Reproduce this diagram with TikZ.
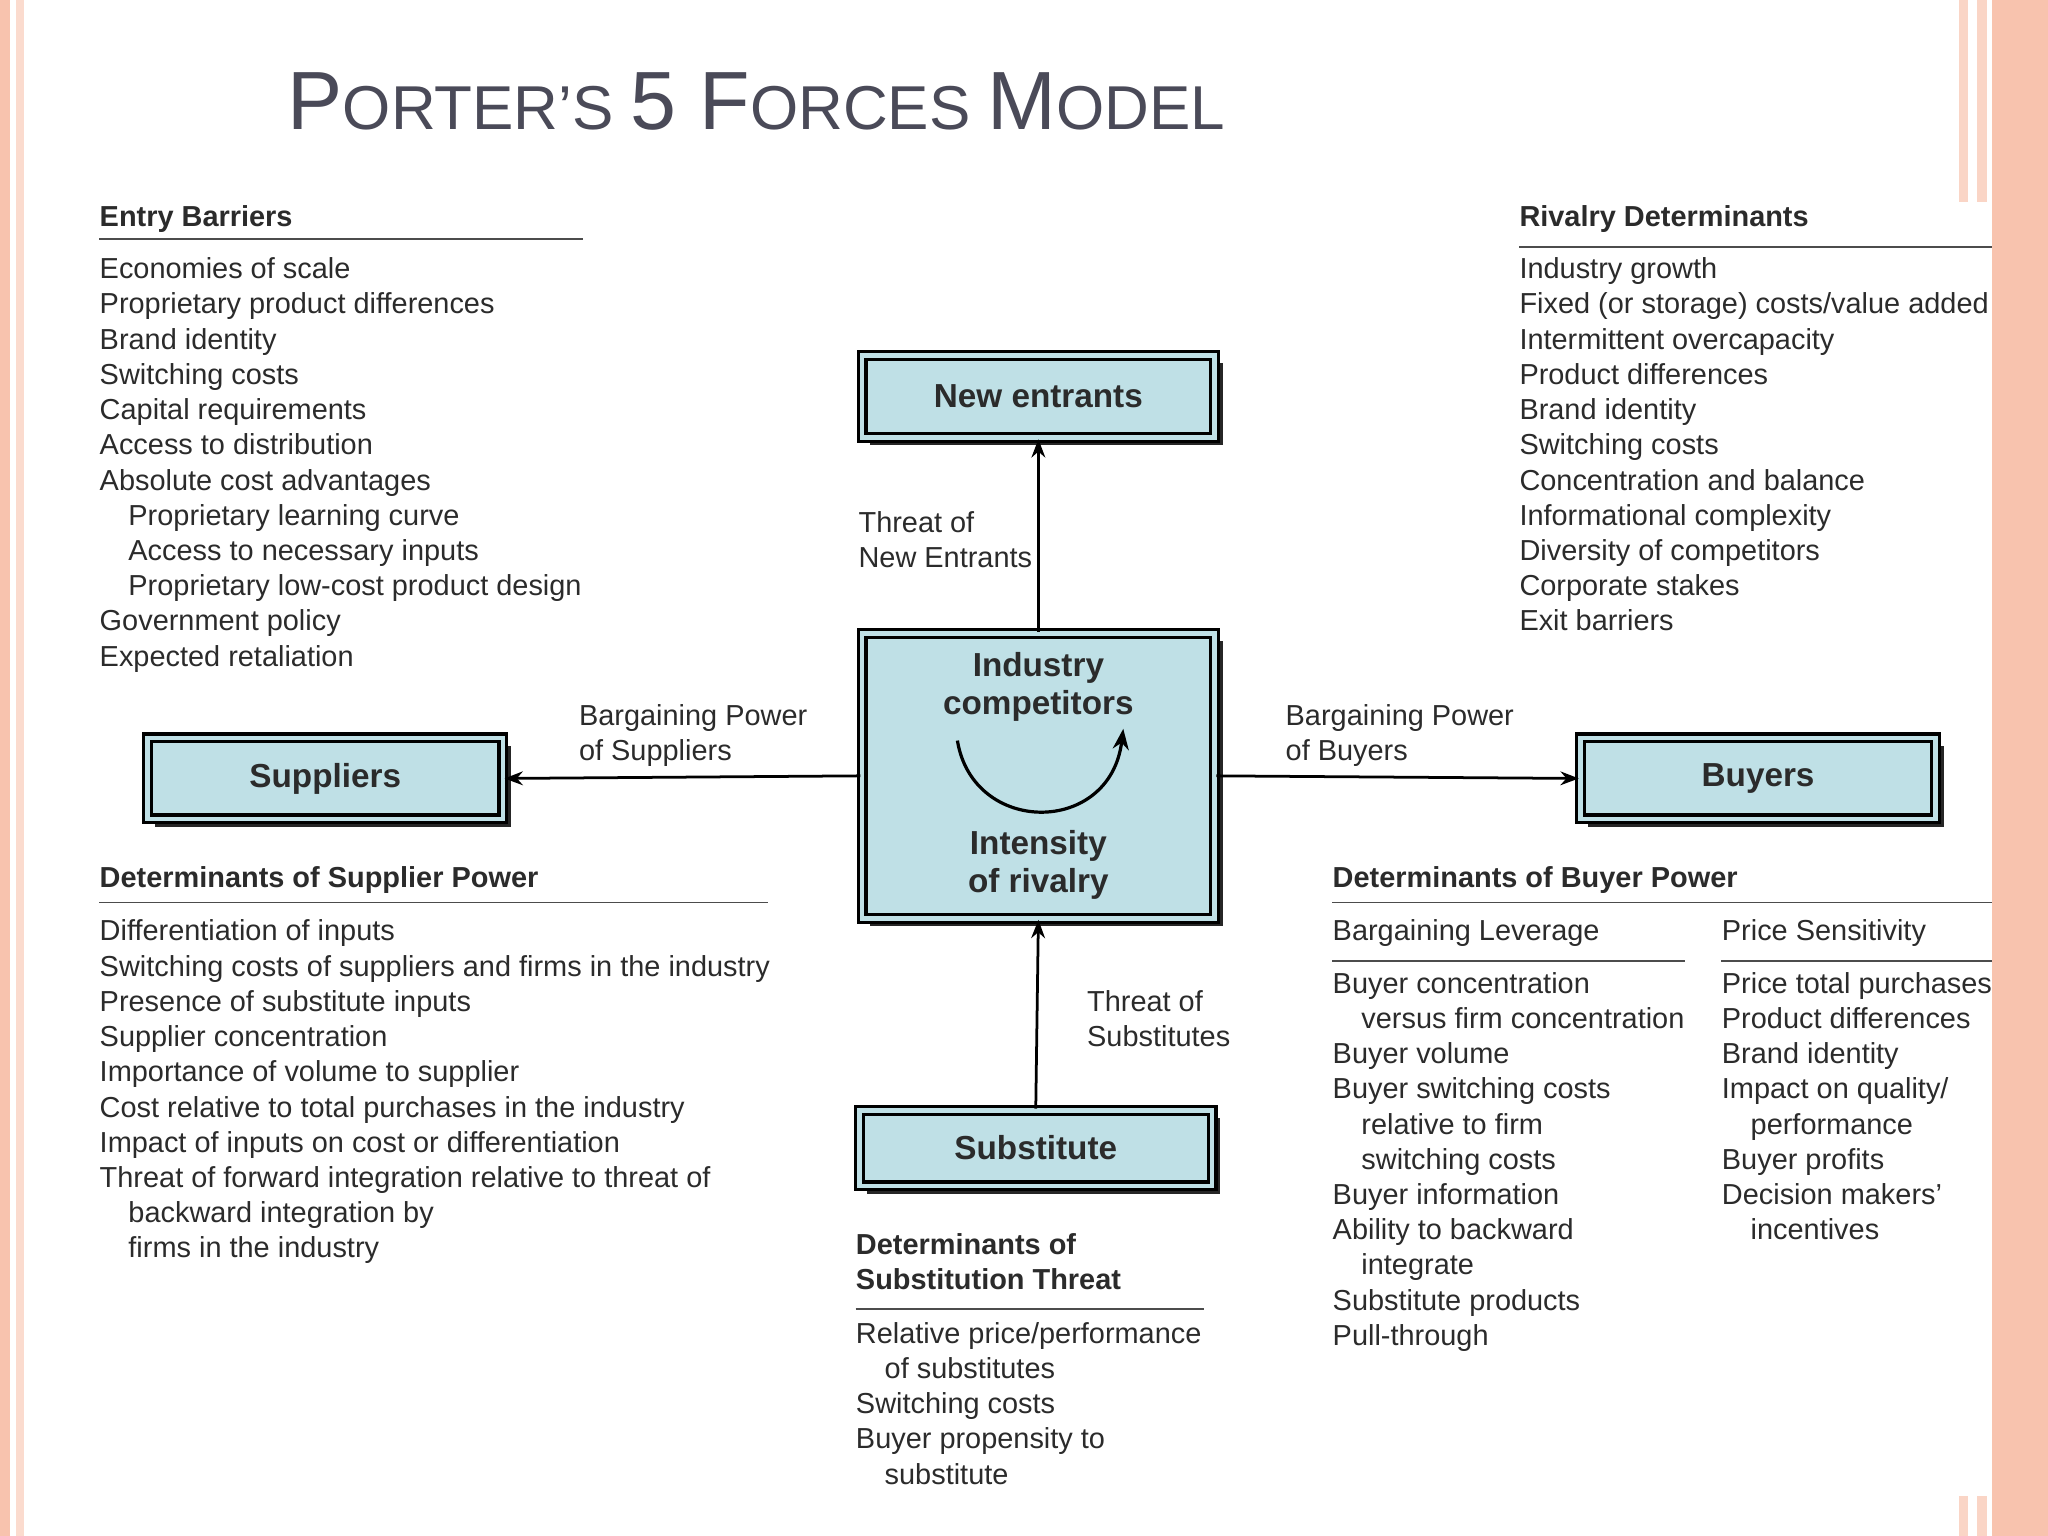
\documentclass[tikz,border=0pt]{standalone}
\usepackage{fontspec}
\setmainfont{Liberation Sans}
\usetikzlibrary{arrows.meta}
\definecolor{boxfill}{HTML}{BFE0E6}
\definecolor{salmon}{HTML}{F8C3AE}
\definecolor{txt}{HTML}{2B2B2B}
\definecolor{ttl}{HTML}{4A4A58}
\begin{document}
\begin{tikzpicture}[x=0.02cm,y=-0.02cm,
  lst/.style={anchor=north west,inner sep=0pt,align=left,text=txt,font=\fontsize{12.6}{15.35}\selectfont},
  hd/.style={lst,font=\fontsize{12.6}{15.35}\selectfont\bfseries},
  box/.style={draw=black,line width=1.4pt,fill=boxfill,double=boxfill,double distance=2pt,inner sep=0pt,font=\fontsize{14.5}{17}\selectfont\bfseries,text=txt},
  shd/.style={fill=black!85,draw=none},
  arr/.style={-{Stealth[length=8pt,width=6pt]},line width=1.2pt},
  rule/.style={line width=0.8pt,draw=black!70}]
\useasboundingbox (0,0) rectangle (1568,1176);
\fill[white] (0,0) rectangle (1568,1176);
% borders
\fill[salmon] (0,0) rectangle (8,1176);
\fill[salmon!60] (12,0) rectangle (18,1176);
\fill[salmon] (1525,0) rectangle (1568,1176);
\fill[salmon!70] (1500,0) rectangle (1507,155);
\fill[salmon!70] (1514,0) rectangle (1521,155);
\fill[salmon!70] (1500,1145) rectangle (1507,1176);
\fill[salmon!70] (1514,1145) rectangle (1521,1176);
% title
\node[anchor=base west,inner sep=0pt,text=ttl] (title) at (220,99) {\fontsize{36}{40}\selectfont P\fontsize{27}{30}\selectfont ORTER’S \fontsize{36}{40}\selectfont5 F\fontsize{27}{30}\selectfont ORCES \fontsize{36}{40}\selectfont M\fontsize{27}{30}\selectfont ODEL};
% shadows
\fill[shd] (666,278) rectangle (936,341);
\fill[shd] (666,491) rectangle (936,709);
\fill[shd] (119,571) rectangle (391,633);
\fill[shd] (1216,571) rectangle (1488,633);
\fill[shd] (664,856) rectangle (934,914);
% boxes
\node[box,minimum width=270*0.02cm,minimum height=63*0.02cm] (ne) at (795,303.5) {New entrants};
\node[box,minimum width=270*0.02cm,minimum height=218*0.02cm] (ic) at (795,594) {};
\node[box,minimum width=272*0.02cm,minimum height=62*0.02cm] (su) at (249,596) {Suppliers};
\node[box,minimum width=272*0.02cm,minimum height=62*0.02cm] (bu) at (1346,596) {Buyers};
\node[box,minimum width=270*0.02cm,minimum height=58*0.02cm] (sb) at (793,879) {Substitute};
\node[font=\fontsize{14.5}{16.5}\selectfont\bfseries,text=txt,align=center] (ict) at (795,526) {Industry\\competitors};
\node[font=\fontsize{14.5}{16.5}\selectfont\bfseries,text=txt,align=center] (icb) at (795,662) {Intensity\\of rivalry};
\coordinate (c1) at (733,567);
\coordinate (c2) at (860,558);
\draw[line width=1.4pt,-{Stealth[length=9pt,width=7pt]}] (c1) .. controls (745,640) and (850,640) .. (c2);
% arrows
\draw[arr] (ic.north) -- (ne.south);
\draw[arr] (ic.west) -- (su.east);
\draw[arr] (ic.east) -- (bu.west);
\draw[arr] (sb.north) -- (ic.south);
% labels
\node[lst] (l1) at (657,391) {Threat of\\New Entrants};
\node[lst] (l2) at (443,539) {Bargaining Power\\of Suppliers};
\node[lst] (l3) at (984,539) {Bargaining Power\\of Buyers};
\node[lst] (l4) at (832,758) {Threat of\\Substitutes};
% entry barriers
\node[hd] (h1) at (76,157) {Entry Barriers};
\draw[rule] (76,183) -- (446,183);
\node[lst] (t1) at (76,197) {Economies of scale\\Proprietary product differences\\Brand identity\\Switching costs\\Capital requirements\\Access to distribution\\Absolute cost advantages\\\hspace*{0.44cm}Proprietary learning curve\\\hspace*{0.44cm}Access to necessary inputs\\\hspace*{0.44cm}Proprietary low-cost product design\\Government policy\\Expected retaliation};
% rivalry
\node[hd] (h2) at (1163,157) {Rivalry Determinants};
\draw[rule] (1163,189) -- (1525,189);
\node[lst] (t2) at (1163,197) {Industry growth\\Fixed (or storage) costs/value added\\Intermittent overcapacity\\Product differences\\Brand identity\\Switching costs\\Concentration and balance\\Informational complexity\\Diversity of competitors\\Corporate stakes\\Exit barriers};
% supplier power
\node[hd] (h3) at (76,663) {Determinants of Supplier Power};
\draw[rule] (76,691) -- (588,691);
\node[lst] (t3) at (76,704) {Differentiation of inputs\\Switching costs of suppliers and firms in the industry\\Presence of substitute inputs\\Supplier concentration\\Importance of volume to supplier\\Cost relative to total purchases in the industry\\Impact of inputs on cost or differentiation\\Threat of forward integration relative to threat of\\\hspace*{0.44cm}backward integration by\\\hspace*{0.44cm}firms in the industry};
% buyer power
\node[hd] (h4) at (1020,663) {Determinants of Buyer Power};
\draw[rule] (1020,691) -- (1525,691);
\node[lst] (h5) at (1020,704) {Bargaining Leverage};
\draw[rule] (1020,736) -- (1290,736);
\node[lst] (h6) at (1318,704) {Price Sensitivity};
\draw[rule] (1318,736) -- (1525,736);
\node[lst] (t5) at (1020,744) {Buyer concentration\\\hspace*{0.44cm}versus firm concentration\\Buyer volume\\Buyer switching costs\\\hspace*{0.44cm}relative to firm\\\hspace*{0.44cm}switching costs\\Buyer information\\Ability to backward\\\hspace*{0.44cm}integrate\\Substitute products\\Pull-through};
\node[lst] (t6) at (1318,744) {Price total purchases\\Product differences\\Brand identity\\Impact on quality/\\\hspace*{0.44cm}performance\\Buyer profits\\Decision makers'\\\hspace*{0.44cm}incentives};
% substitution
\node[hd] (h7) at (655,944) {Determinants of\\Substitution Threat};
\draw[rule] (655,1002) -- (922,1002);
\node[lst] (t7) at (655,1012) {Relative price/performance\\\hspace*{0.44cm}of substitutes\\Switching costs\\Buyer propensity to\\\hspace*{0.44cm}substitute};
\end{tikzpicture}
\end{document}
